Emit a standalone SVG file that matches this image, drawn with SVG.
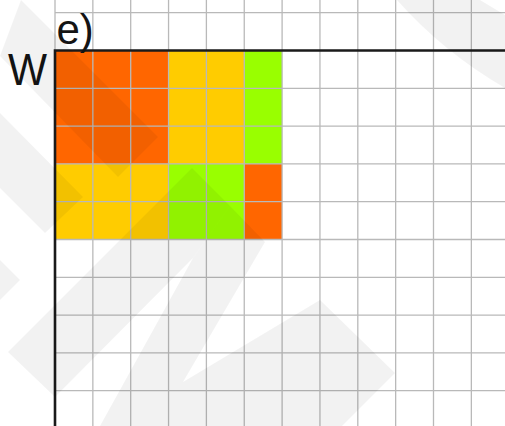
<svg xmlns="http://www.w3.org/2000/svg" width="505" height="426" viewBox="0 0 505 426">
<style>
.grid line{stroke:#b9b9b9;stroke-width:1.3}
.axis{stroke:#1a1a1a;stroke-width:2.6;fill:none}
.o{fill:#ff6600}.y{fill:#ffcc00}.g{fill:#99ff00}
.lbl{font-family:"Liberation Sans",Arial,Helvetica,sans-serif;fill:#141414}
.wm{fill:#000;fill-opacity:0.052}
</style>
<rect width="505" height="426" fill="#fff"/>
<g id="cells">
<rect class="o" x="55" y="50.5" width="113.55" height="113.4"/>
<rect class="y" x="168.55" y="50.5" width="75.7" height="113.4"/>
<rect class="g" x="244.25" y="50.5" width="37.85" height="113.4"/>
<rect class="y" x="55" y="163.9" width="113.55" height="75.6"/>
<rect class="g" x="168.55" y="163.9" width="75.7" height="75.6"/>
<rect class="o" x="244.25" y="163.9" width="37.85" height="75.6"/>
</g>
<g id="grid" class="grid">
<line x1="92.85" y1="0" x2="92.85" y2="426"/>
<line x1="130.7" y1="0" x2="130.7" y2="426"/>
<line x1="168.55" y1="0" x2="168.55" y2="426"/>
<line x1="206.4" y1="0" x2="206.4" y2="426"/>
<line x1="244.25" y1="0" x2="244.25" y2="426"/>
<line x1="282.1" y1="0" x2="282.1" y2="426"/>
<line x1="319.95" y1="0" x2="319.95" y2="426"/>
<line x1="357.8" y1="0" x2="357.8" y2="426"/>
<line x1="395.65" y1="0" x2="395.65" y2="426"/>
<line x1="433.5" y1="0" x2="433.5" y2="426"/>
<line x1="471.35" y1="0" x2="471.35" y2="426"/>
<line x1="55" y1="0" x2="55" y2="50"/>
<line x1="55" y1="12.7" x2="505" y2="12.7"/>
<line x1="55" y1="88.3" x2="505" y2="88.3"/>
<line x1="55" y1="126.1" x2="505" y2="126.1"/>
<line x1="55" y1="163.9" x2="505" y2="163.9"/>
<line x1="55" y1="201.7" x2="505" y2="201.7"/>
<line x1="55" y1="239.5" x2="505" y2="239.5"/>
<line x1="55" y1="277.3" x2="505" y2="277.3"/>
<line x1="55" y1="315.1" x2="505" y2="315.1"/>
<line x1="55" y1="352.9" x2="505" y2="352.9"/>
<line x1="55" y1="390.7" x2="505" y2="390.7"/>
</g>
<g id="axes">
<path class="axis" d="M55 426 V50.5 H505"/>
</g>
<g id="labels">
<text class="lbl" x="8" y="85" font-size="44" textLength="39" lengthAdjust="spacingAndGlyphs">W</text>
<text class="lbl" x="56.5" y="44" font-size="42">e)</text>
</g>
<g id="watermark" class="wm">
<polygon points="21,0 158,137 118,177 0,56"/>
<polygon points="0,113 83,197 45,233 0,188"/>
<polygon points="0,260 20,280 0,300"/>
<polygon points="8,352 192,168 230,206 193,258 55,397"/>
<polygon points="230,206 265,242 183,382 320,300 395,373 342,426 100,426 193,258"/>
<path d="M397 0 H480 L505 15 V88 Q443 52 397 0 Z"/>
</g>
</svg>
